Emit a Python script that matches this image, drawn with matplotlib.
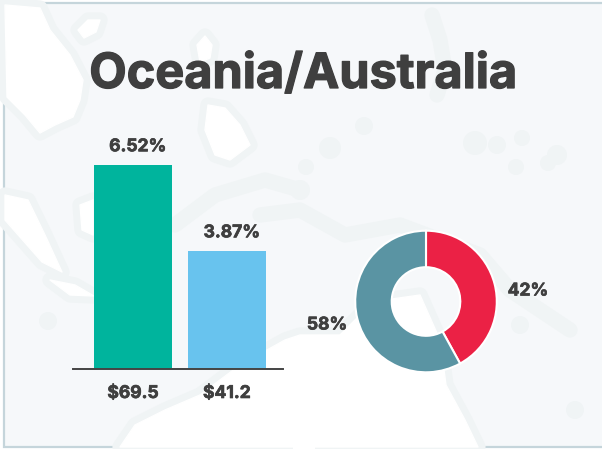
import matplotlib
matplotlib.use('Agg')
import matplotlib.pyplot as plt
import matplotlib.patheffects as pe
from matplotlib.patches import Circle, Polygon, Rectangle

plt.rcParams['font.family'] = ['Inter', 'DejaVu Sans']

# data
title = 'Oceania/Australia'
bar_values = [6.52, 3.77]
bar_labels = ['6.52%', '3.87%']
bar_categories = ['$69.5', '$41.2']
bar_colors = ['#00b49d', '#68c3ee']
pie_values = [42, 58]
pie_labels = ['42%', '58%']
pie_colors = ['#eb2145', '#5a94a3']

text_color = '#3f3f3f'
bg_color = '#f6f8fa'
halo_color = '#f0f4f5'
border_color = '#c5d5db'

# faint map shapes behind the chart, in pixels
land_shapes = [
    [(5, 5), (40, 8), (50, 30), (70, 55), (83, 80), (80, 100), (73, 117), (55, 125), (40, 133),
     (25, 115), (7, 97)],
    [(78, 30), (88, 20), (100, 20), (96, 32), (84, 38)],
    [(197, 45), (205, 36), (212, 45), (210, 58), (200, 62)],
    [(208, 105), (225, 108), (240, 125), (250, 145), (230, 160), (215, 155), (205, 130)],
    [(5, 195), (28, 200), (45, 235), (62, 272), (42, 262), (5, 220)],
    [(50, 280), (75, 285), (94, 296), (70, 295)],
    [(80, 205), (93, 200), (93, 235), (82, 230)],
    [(120, 447), (135, 425), (165, 410), (200, 395), (240, 365), (285, 340), (300, 335),
     (340, 335), (360, 315), (385, 300), (420, 295), (440, 340), (446, 385), (465, 420),
     (478, 447)],
]
# reefs and small islands that only show as a soft patch
reef_lines = [
    [(432, 15), (440, 40), (445, 70), (437, 95)],
    [(260, 215), (300, 210), (345, 235), (400, 225), (440, 240), (480, 255), (510, 290),
     (570, 330)],
    [(175, 225), (215, 195), (265, 180), (300, 190)],
]
reef_dots = [(364, 126, 9), (330, 148, 11), (306, 167, 8), (300, 190, 10), (475, 143, 12),
             (497, 145, 9), (522, 138, 8), (516, 167, 8), (557, 155, 10), (548, 163, 8),
             (48, 321, 9), (575, 410, 9), (425, 385, 10), (520, 325, 9)]

# a thin stroke so the labels carry the reference's heavier weight
heavy = [pe.withStroke(linewidth=0.5, foreground=text_color)]
heavy_title = [pe.withStroke(linewidth=0.9, foreground=text_color)]

fig = plt.figure(figsize=(6.02, 4.49), dpi=100, facecolor='white')

# background layer
bg = fig.add_axes([0, 0, 1, 1])
bg.set_xlim(0, 602)
bg.set_ylim(449, 0)
bg.axis('off')
bg.add_patch(Rectangle((4, 3), 610, 444, facecolor=bg_color, edgecolor=border_color, linewidth=1.6))
for x, y, r in reef_dots:
    bg.add_patch(Circle((x, y), r, facecolor=halo_color, edgecolor='none'))
for line in reef_lines:
    xs, ys = zip(*line)
    bg.plot(xs, ys, color=halo_color, linewidth=11, solid_capstyle='round', solid_joinstyle='round')
for shape in land_shapes:
    bg.add_patch(Polygon(shape, closed=True, facecolor=halo_color, edgecolor=halo_color,
                         linewidth=11, joinstyle='round'))
for shape in land_shapes:
    bg.add_patch(Polygon(shape, closed=True, facecolor='white', edgecolor='white',
                         linewidth=1, joinstyle='round'))
bg.add_patch(Rectangle((293, 444), 22, 6, facecolor='white', edgecolor='none'))

bg.text(303, 75, title, ha='center', va='center', fontsize=35, fontweight='bold', color=text_color,
        path_effects=heavy_title)

# bars
ax = fig.add_axes([73 / 602, (449 - 369) / 449, 210 / 602, 269 / 449])
ax.patch.set_alpha(0)
bars = ax.bar([0, 1], bar_values, width=0.83, color=bar_colors)
ax.set_xlim(-0.638, 1.596)
ax.set_ylim(0, 269 / 31.29)
for s in ['top', 'left', 'right']:
    ax.spines[s].set_visible(False)
ax.spines['bottom'].set_color('#444444')
ax.spines['bottom'].set_linewidth(1.4)
ax.set_yticks([])
ax.set_xticks([0, 1])
ax.set_xticklabels(bar_categories, fontsize=12.6, fontweight='bold', color=text_color,
                   path_effects=heavy)
ax.tick_params(axis='x', length=0, pad=11.5)
for b, lab in zip(bars, bar_labels):
    ax.annotate(lab, (b.get_x() + b.get_width() / 2, b.get_height()), xytext=(3.5, 7),
                textcoords='offset points', ha='center', va='bottom',
                fontsize=12.6, fontweight='bold', color=text_color, path_effects=heavy)

# donut
pax = fig.add_axes([(426 - 72) / 602, (449 - 301.5 - 72) / 449, 144 / 602, 144 / 449])
pax.pie(pie_values, colors=pie_colors, startangle=90, counterclock=False, radius=70.8 / 72,
        wedgeprops={'width': 36.5 / 72, 'edgecolor': 'white', 'linewidth': 1.5})
pax.set_xlim(-1, 1)
pax.set_ylim(-1, 1)
bg.text(528, 291, pie_labels[0], ha='center', va='center', fontsize=12.6, fontweight='bold',
        color=text_color, path_effects=heavy)
bg.text(327, 325, pie_labels[1], ha='center', va='center', fontsize=12.6, fontweight='bold',
        color=text_color, path_effects=heavy)

fig.savefig('out.png', dpi=100)
